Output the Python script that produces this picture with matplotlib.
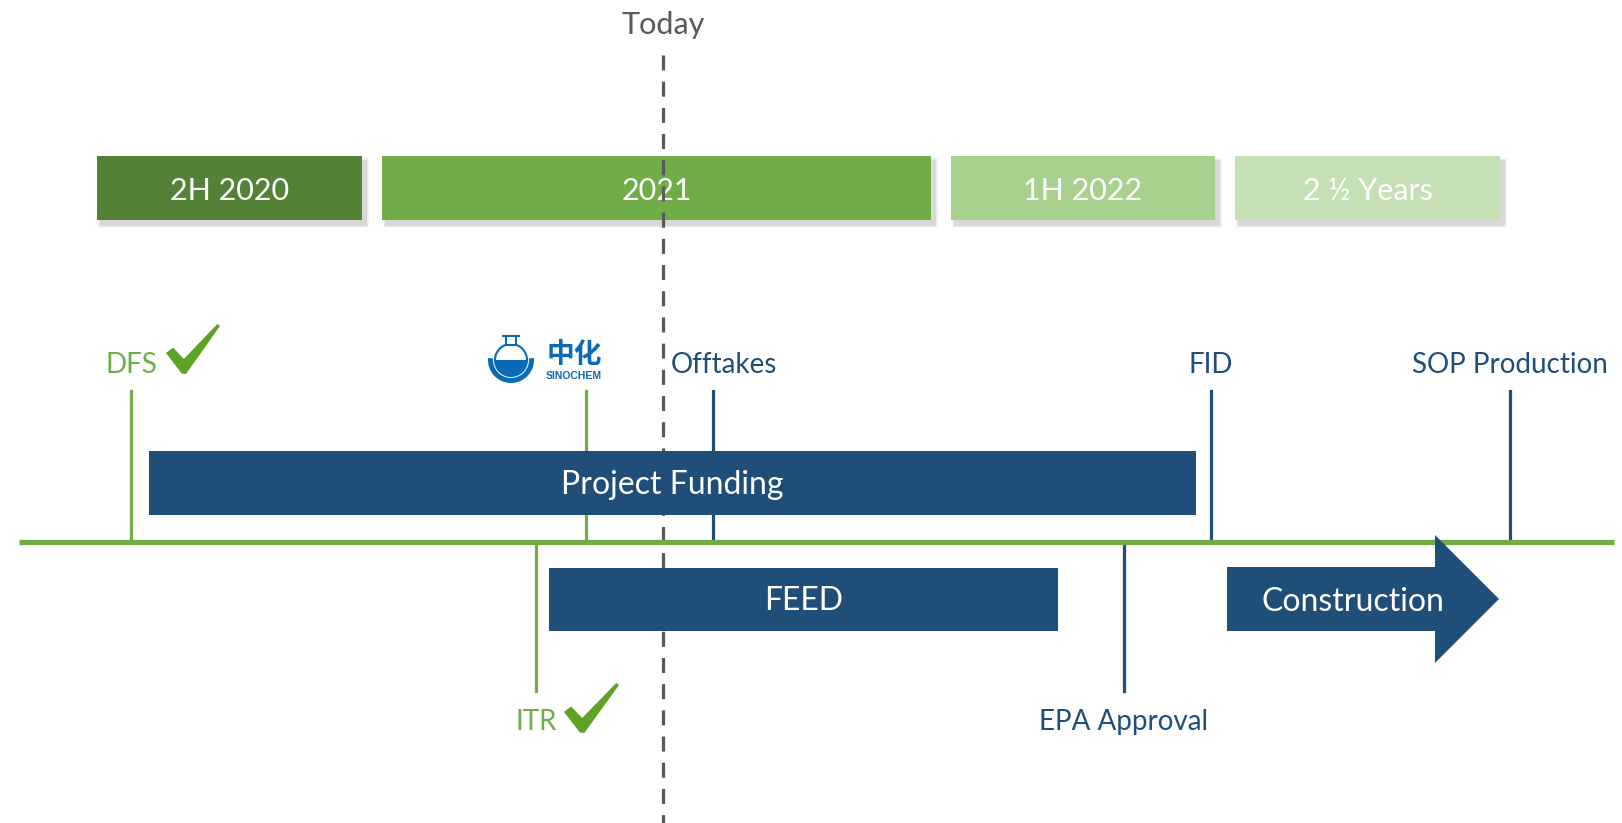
import matplotlib.pyplot as plt
from matplotlib.patches import Rectangle, Polygon, Circle, Wedge

# Timeline data (positions in timeline units along the horizontal axis)
periods = ["2H 2020", "2021", "1H 2022", "2 \u00bd Years"]
period_start = [97, 382, 951, 1235]
period_end = [362, 931, 1215, 1500]
period_colors = ["#538135", "#70AD47", "#A9D18E", "#C5E0B4"]

above_labels = ["DFS", "", "Offtakes", "FID", "SOP Production"]
above_x = [131, 586, 713, 1211, 1510]
above_colors = ["#70AD47", "#70AD47", "#1F4E79", "#1F4E79", "#1F4E79"]

below_labels = ["ITR", "EPA Approval"]
below_x = [536, 1124]
below_colors = ["#70AD47", "#1F4E79"]

bars = ["Project Funding", "FEED"]
bar_start = [149, 549]
bar_end = [1196, 1058]
bar_row = [0, 1]  # 0 = above axis, 1 = below axis

construction_start = 1227
construction_end = 1499
today_x = 663

NAVY = "#1F4E79"
GREEN = "#70AD47"
CHECK = "#5EA325"
GRAY = "#595959"
LOGO = "#0A6AB6"
FONT = ["Lato", "DejaVu Sans"]

W, H = 1622, 823
fig = plt.figure(figsize=(W / 100, H / 100), dpi=100)
ax = fig.add_axes([0, 0, 1, 1])
ax.set_xlim(0, W)
ax.set_ylim(H, 0)
ax.axis("off")

axis_y = 542
box_top, box_bot = 156, 220
bar_rows = [(451, 515), (568, 631)]


def checkmark(x0, y0, w, h):
    pts = [(0.00, 0.58), (0.13, 0.47), (0.33, 0.70), (0.95, 0.00), (1.00, 0.04),
           (0.37, 1.00), (0.29, 0.99)]
    ax.add_patch(Polygon([(x0 + u * w, y0 + v * h) for u, v in pts],
                         closed=True, color=CHECK, lw=0, zorder=6))


# period boxes with soft shadow
for lab, s, e, c in zip(periods, period_start, period_end, period_colors):
    for k, a in zip([6, 4, 2], [0.06, 0.10, 0.16]):
        ax.add_patch(Rectangle((s + 4 - k / 2, box_top + 5 - k / 2), e - s + k, box_bot - box_top + k,
                               color="#7f7f7f", alpha=a, lw=0, zorder=1))
    ax.add_patch(Rectangle((s, box_top), e - s, box_bot - box_top, color=c, lw=0, zorder=2))
    ax.text((s + e) / 2, (box_top + box_bot) / 2 + 3, lab, color="white", fontsize=22,
            family=FONT, ha="center", va="center", zorder=3)

# today line
ax.plot([today_x, today_x], [55, H], color=GRAY, lw=2.3, ls=(0, (4.7, 3.5)), zorder=3)
ax.text(today_x, 25, "Today", color=GRAY, fontsize=22, family=FONT,
        ha="center", va="center", zorder=3)

# milestone ticks above axis
for lab, x, c in zip(above_labels, above_x, above_colors):
    ax.plot([x, x], [391, axis_y], color=c, lw=2.3, zorder=4)
    if lab:
        ha = "left" if lab == "Offtakes" else "center"
        xx = x - 42 if lab == "Offtakes" else x
        ax.text(xx, 365, lab, color=c, fontsize=20, family=FONT, ha=ha, va="center", zorder=4)

# milestone ticks below axis
for lab, x, c in zip(below_labels, below_x, below_colors):
    ax.plot([x, x], [axis_y, 691], color=c, lw=2.3, zorder=4)
    ax.text(x, 722, lab, color=c, fontsize=20, family=FONT, ha="center", va="center", zorder=4)

checkmark(166, 324, 54, 50)
checkmark(564, 683, 55, 50)

# funding / FEED bars
for lab, s, e, r in zip(bars, bar_start, bar_end, bar_row):
    t, b = bar_rows[r]
    ax.add_patch(Rectangle((s, t), e - s, b - t, color=NAVY, lw=0, zorder=5))
    ax.text((s + e) / 2, (t + b) / 2 + 2, lab, color="white", fontsize=23, family=FONT,
            ha="center", va="center", zorder=6)

# main axis line
ax.plot([19, 1614], [axis_y, axis_y], color=GREEN, lw=3.8, solid_capstyle="butt", zorder=5)

# construction arrow
head_x = construction_end - 64
arrow = [(construction_start, 567), (head_x, 567), (head_x, 535), (construction_end, 599),
         (head_x, 663), (head_x, 631), (construction_start, 631)]
ax.add_patch(Polygon(arrow, closed=True, color=NAVY, lw=0, zorder=6))
ax.text((construction_start + head_x) / 2 + 22, 602, "Construction", color="white",
        fontsize=23, family=FONT, ha="center", va="center", zorder=7)

# Sinochem logo
cx, cy = 511, 360
ax.add_patch(Wedge((cx, cy), 23, -5, 185, width=5, color=LOGO, lw=0, zorder=4))
ax.add_patch(Circle((cx, cy), 16, facecolor="white", edgecolor=LOGO, lw=1.5, zorder=4))
ax.add_patch(Wedge((cx, cy), 16, 0, 180, color=LOGO, lw=0, zorder=4))
ax.add_patch(Rectangle((cx - 5, cy - 24), 10, 9, facecolor="white", edgecolor=LOGO, lw=1.5, zorder=4))
ax.plot([cx - 8, cx + 8], [cy - 24, cy - 24], color=LOGO, lw=1.5, zorder=4)
ax.text(574, 355, "中化", color=LOGO, fontsize=20, weight="bold",
        family=["Noto Sans CJK SC", "DejaVu Sans"], ha="center", va="center", zorder=4)
ax.text(574, 376, "SINOCHEM", color=LOGO, fontsize=7.5, weight="bold",
        family=["Liberation Sans", "DejaVu Sans"], ha="center", va="center", zorder=4)

fig.savefig("out.png", dpi=100, facecolor="white")
